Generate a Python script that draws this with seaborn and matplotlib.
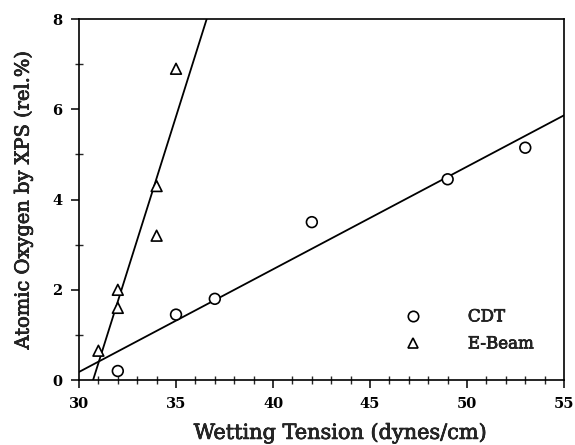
import numpy as np
import pandas as pd
import matplotlib
matplotlib.use("Agg")
import matplotlib.pyplot as plt
import matplotlib.patheffects as pe
from matplotlib.ticker import MultipleLocator
import seaborn as sns

# Wetting tension (dynes/cm) vs. atomic oxygen by XPS (rel.%)
cdt_tension = [32, 35, 37, 42, 49, 53]
cdt_oxygen = [0.2, 1.45, 1.8, 3.5, 4.45, 5.15]

ebeam_tension = [31, 32, 32, 34, 34, 35]
ebeam_oxygen = [0.65, 2.0, 1.6, 4.3, 3.2, 6.9]

x_ticks = [30, 35, 40, 45, 50, 55]
y_ticks = [0, 2, 4, 6, 8]

sns.set_style("ticks")
plt.rcParams["font.family"] = ["DejaVu Serif", "Liberation Serif"]

df = pd.concat([
    pd.DataFrame({"tension": cdt_tension, "oxygen": cdt_oxygen, "treatment": "CDT"}),
    pd.DataFrame({"tension": ebeam_tension, "oxygen": ebeam_oxygen, "treatment": "E-Beam"}),
], ignore_index=True)

fig = plt.figure(figsize=(5.75, 4.45), dpi=100)
ax = fig.add_axes([0.1374, 0.146, 0.8436, 0.811])
ax.set_xlim(30, 55)
ax.set_ylim(0, 8)

# Least-squares fit lines spanning the full axis range
for name in ["CDT", "E-Beam"]:
    sub = df[df.treatment == name]
    sns.regplot(data=sub, x="tension", y="oxygen", ax=ax, scatter=False,
                ci=None, truncate=False, color="black",
                line_kws={"linewidth": 1.3})
ax.set_xlim(30, 55)
ax.set_ylim(0, 8)

sns.scatterplot(data=df, x="tension", y="oxygen", style="treatment",
                markers={"CDT": "o", "E-Beam": "^"}, ax=ax,
                facecolor="white", edgecolor="black", linewidth=1.2,
                s=60, legend=False, zorder=3, clip_on=False)

# Legend entries drawn as a frameless key
handles = [
    plt.Line2D([], [], marker="o", linestyle="none", markersize=7.5,
               markerfacecolor="white", markeredgecolor="black", markeredgewidth=1.2),
    plt.Line2D([], [], marker="^", linestyle="none", markersize=7.5,
               markerfacecolor="white", markeredgecolor="black", markeredgewidth=1.2),
]
leg = ax.legend(handles, ["CDT", "E-Beam"], loc="lower left",
                bbox_to_anchor=(0.623, 0.035), frameon=False, handletextpad=2.3,
                labelspacing=0.6, prop={"size": 12})
heavier = [pe.withStroke(linewidth=0.5, foreground="black")]
for t in leg.get_texts():
    t.set_path_effects(heavier)

ax.set_xticks(x_ticks)
ax.set_yticks(y_ticks)
ax.xaxis.set_minor_locator(MultipleLocator(1))
ax.yaxis.set_minor_locator(MultipleLocator(1))
ax.tick_params(which="major", direction="out", length=6, width=1.1,
               labelsize=10.5, colors="black", pad=6)
ax.tick_params(which="minor", direction="inout", length=6, width=1.0)
for lbl in ax.get_xticklabels() + ax.get_yticklabels():
    lbl.set_fontweight("bold")

for side in ["top", "right", "left", "bottom"]:
    ax.spines[side].set_visible(True)
    ax.spines[side].set_linewidth(1.2)
    ax.spines[side].set_color("black")

ax.set_xlabel("Wetting Tension (dynes/cm)", fontsize=15, labelpad=9)
ax.set_ylabel("Atomic Oxygen by XPS (rel.%)", fontsize=14, labelpad=14)
ax.xaxis.label.set_x(0.54)
ax.xaxis.label.set_path_effects(heavier)
ax.yaxis.label.set_path_effects(heavier)

fig.savefig("out.png", dpi=100, facecolor="white")
